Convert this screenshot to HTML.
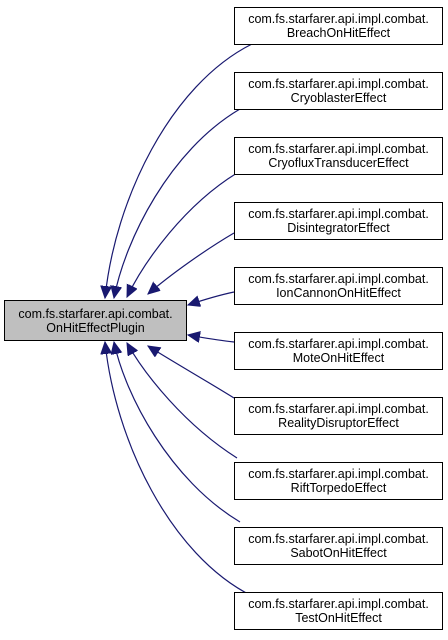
<!DOCTYPE html>
<html><head><style>
body{margin:0;background:#fff;}
.b{position:absolute;border:1px solid #000;background:#fff;font:12.5px/14px "Liberation Sans",sans-serif;text-align:center;box-sizing:border-box;padding-top:4px;white-space:nowrap;}
</style></head><body>
<div style="position:relative;width:448px;height:640px;overflow:hidden">
<svg width="448" height="640" style="position:absolute;left:0;top:0">
<defs><marker id="a" markerUnits="userSpaceOnUse" markerWidth="14" markerHeight="12" refX="12" refY="5.5" orient="auto"><path d="M0,0 L12,5.5 L0,11 z" fill="#191970" stroke="#191970"/></marker></defs>
<g fill="none" stroke="#191970" stroke-width="1.2" marker-end="url(#a)">
<path d="M252,44 C170,85 115,200 105,298"/>
<path d="M240,109 C170,150 125,240 114,298"/>
<path d="M237,173 C185,205 145,260 127,297"/>
<path d="M234,233 C205,250 170,275 148,294"/>
<path d="M234,292 C215,296 200,301 188,305"/>
<path d="M234,342 C215,340 200,337 188,335"/>
<path d="M234,398 C205,380 170,360 148,346"/>
<path d="M237,458 C185,425 145,375 127,343"/>
<path d="M240,522 C170,480 125,395 114,342"/>
<path d="M252,596 C170,555 115,440 105,342"/>
</g>
</svg>
<div class="b" style="left:4px;top:300px;width:183px;height:41px;background:#bfbfbf;padding-top:6px">com.fs.starfarer.api.combat.<br>OnHitEffectPlugin</div>
<div class="b" style="left:234px;top:7px;width:209px;height:38px">com.fs.starfarer.api.impl.combat.<br>BreachOnHitEffect</div>
<div class="b" style="left:234px;top:72px;width:209px;height:38px">com.fs.starfarer.api.impl.combat.<br>CryoblasterEffect</div>
<div class="b" style="left:234px;top:137px;width:209px;height:38px">com.fs.starfarer.api.impl.combat.<br>CryofluxTransducerEffect</div>
<div class="b" style="left:234px;top:202px;width:209px;height:38px">com.fs.starfarer.api.impl.combat.<br>DisintegratorEffect</div>
<div class="b" style="left:234px;top:267px;width:209px;height:38px">com.fs.starfarer.api.impl.combat.<br>IonCannonOnHitEffect</div>
<div class="b" style="left:234px;top:332px;width:209px;height:38px">com.fs.starfarer.api.impl.combat.<br>MoteOnHitEffect</div>
<div class="b" style="left:234px;top:397px;width:209px;height:38px">com.fs.starfarer.api.impl.combat.<br>RealityDisruptorEffect</div>
<div class="b" style="left:234px;top:462px;width:209px;height:38px">com.fs.starfarer.api.impl.combat.<br>RiftTorpedoEffect</div>
<div class="b" style="left:234px;top:527px;width:209px;height:38px">com.fs.starfarer.api.impl.combat.<br>SabotOnHitEffect</div>
<div class="b" style="left:234px;top:592px;width:209px;height:38px">com.fs.starfarer.api.impl.combat.<br>TestOnHitEffect</div>
</div>
</body></html>
